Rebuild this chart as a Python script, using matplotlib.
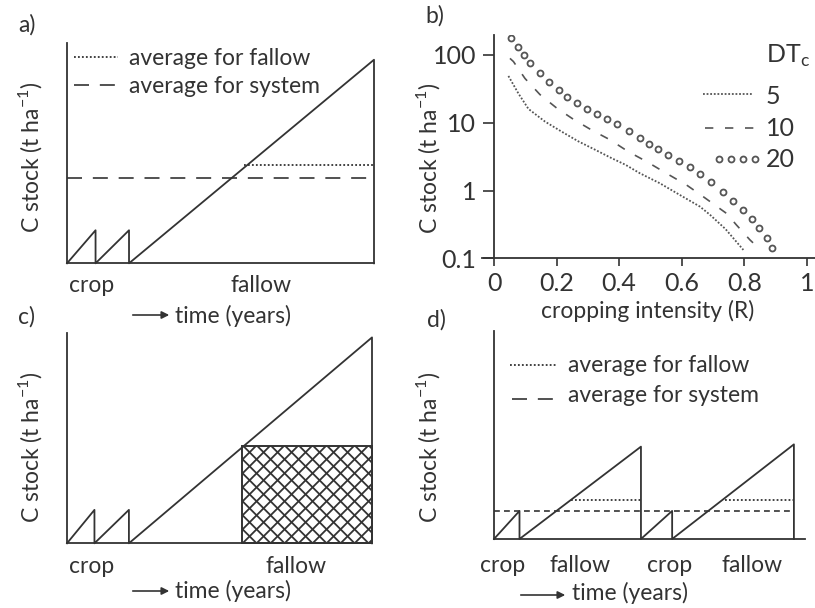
import matplotlib
matplotlib.use('Agg')
import numpy as np
import matplotlib.pyplot as plt
from matplotlib.lines import Line2D
from matplotlib.patches import Rectangle, FancyArrowPatch

plt.rcParams['font.family'] = ['Lato', 'DejaVu Sans']
plt.rcParams['mathtext.fontset'] = 'custom'
plt.rcParams['mathtext.rm'] = 'Lato'

W, H = 815, 608
INK = '#333333'
GREY = '#555555'
FS = 16.5

# a) one crop phase followed by a long fallow
a_time = [0, 0.93, 0.93, 2.02, 2.02, 10, 10]
a_stock = [0, 1.5, 0, 1.5, 0, 9.24, 0]
a_sys_avg = 3.89
a_fallow_avg = 4.47
a_fallow_from = 5.75

# b) C stock against cropping intensity for three crop durations
r5 = [0.046, 0.078, 0.110, 0.163, 0.216, 0.270, 0.323, 0.376, 0.420, 0.466,
      0.530, 0.594, 0.658, 0.690, 0.740, 0.797]
c5 = [49, 27, 16.0, 10.4, 7.4, 5.3, 4.0, 3.0, 2.4, 1.8,
      1.28, 0.86, 0.58, 0.44, 0.27, 0.133]
r10 = [0.051, 0.062, 0.099, 0.147, 0.200, 0.253, 0.312, 0.371, 0.429, 0.488,
       0.546, 0.615, 0.669, 0.743, 0.775, 0.818, 0.840]
c10 = [89, 80, 45, 26, 16.5, 11.3, 7.8, 5.6, 3.75, 2.67,
       1.85, 1.21, 0.81, 0.46, 0.31, 0.187, 0.15]
r20 = [0.053, 0.076, 0.096, 0.116, 0.146, 0.176, 0.207, 0.234, 0.265, 0.296,
       0.328, 0.360, 0.394, 0.431, 0.466, 0.495, 0.524, 0.557, 0.592, 0.626,
       0.660, 0.695, 0.731, 0.763, 0.795, 0.825, 0.848, 0.871, 0.890]
c20 = [176, 133, 100, 75, 55, 40, 30.5, 24.3, 19.8, 15.8,
       13.3, 11.2, 9.6, 7.6, 5.9, 4.9, 4.1, 3.35, 2.76, 2.25,
       1.76, 1.32, 0.96, 0.70, 0.52, 0.38, 0.28, 0.20, 0.144]
b_xticks = [0, 0.2, 0.4, 0.6, 0.8, 1]
b_xlabels = ['0', '0.2', '0.4', '0.6', '0.8', '1']
b_yticks = [0.1, 1, 10, 100]
b_ylabels = ['0.1', '1', '10', '100']
dtc_labels = ['5', '10', '20']

# c) same cycle, fallow stock shown as a block
c_time = [0, 0.9, 0.9, 2.03, 2.03, 10, 10]
c_stock = [0, 1.59, 0, 1.59, 0, 9.79, 0]
c_box_from = 5.75
c_box_height = 4.65

# d) two shorter crop-fallow cycles
d_time = [0, 0.85, 0.85, 4.9, 4.9, 5.94, 5.94, 10, 10]
d_stock = [0, 1.35, 0, 4.44, 0, 1.35, 0, 4.55, 0]
d_sys_avg = 1.35
d_fallow_avg = 1.875
d_fallow_spans = [(2.56, 4.9), (7.7, 10)]

fig = plt.figure(figsize=(W / 100, H / 100), dpi=100)


def axes_px(l, t, r, b):
    return fig.add_axes([l / W, 1 - b / H, (r - l) / W, (b - t) / H])


def put(x, y, s, **kw):
    kw.setdefault('fontsize', FS)
    return fig.text(x / W, 1 - y / H, s, color=INK, **kw)


def hline(x1, x2, y, **kw):
    fig.add_artist(Line2D([x1 / W, x2 / W], [1 - y / H, 1 - y / H],
                          transform=fig.transFigure, **kw))


def arrow(x1, x2, y):
    fig.add_artist(FancyArrowPatch((x1 / W, 1 - y / H), (x2 / W, 1 - y / H),
                                   transform=fig.transFigure, arrowstyle='-|>',
                                   mutation_scale=11, lw=1.2, color=INK))


def schematic(ax, xmax=10):
    ax.set_xlim(0, xmax)
    ax.set_ylim(0, 10)
    for s in ['top', 'right']:
        ax.spines[s].set_visible(False)
    for s in ['left', 'bottom']:
        ax.spines[s].set_color(INK)
        ax.spines[s].set_linewidth(1.3)
    ax.set_xticks([])
    ax.set_yticks([])
    ax.patch.set_alpha(0)


dotted = dict(color=INK, lw=1.3, dashes=(1, 1.2))
dashed = dict(color=INK, lw=1.2, dashes=(9, 6.5))
short_dash = dict(color=INK, lw=1.2, dashes=(3.5, 2.5))
ylab = r'C stock (t ha$^{\mathregular{-1}}$)'

# ---- a)
ax_a = axes_px(67, 43, 374, 263.3)
schematic(ax_a)
ax_a.plot(a_time, a_stock, color=INK, lw=1.3, clip_on=False)
ax_a.plot([0, 10], [a_sys_avg] * 2, clip_on=False, **dashed)
ax_a.plot([a_fallow_from, 10], [a_fallow_avg] * 2, clip_on=False, **dotted)
hline(74, 118, 57, **dotted)
hline(74, 118, 85, **dashed)
put(129, 65, 'average for fallow', va='baseline')
put(129, 93, 'average for system', va='baseline')
put(18, 25, 'a)', va='center')
put(30, 157, ylab, rotation=90, ha='center', va='center')
put(92, 292, 'crop', ha='center', va='baseline')
put(261, 292, 'fallow', ha='center', va='baseline')
arrow(130, 172, 315)
put(175, 323, 'time (years)', va='baseline')

# ---- b)
ax_b = axes_px(481.5, 35, 815, 258.3)
ax_b.set_yscale('log')
ax_b.set_xlim(-0.04, 1.026)
ax_b.set_ylim(0.1, 197)
ax_b.plot(r5, c5, color=GREY, lw=1.3, dashes=(1, 1))
ax_b.plot(r10, c10, color=GREY, lw=1.2, dashes=(5, 7))
ax_b.plot(r20, c20, ls='none', marker='o', ms=4.3, mew=1.3,
          mfc='none', mec=GREY)
for s in ['top', 'right']:
    ax_b.spines[s].set_visible(False)
ax_b.spines['left'].set_position(('data', 0))
for s in ['left', 'bottom']:
    ax_b.spines[s].set_color(INK)
    ax_b.spines[s].set_linewidth(1.3)
ax_b.set_xticks(b_xticks)
ax_b.set_xticklabels(b_xlabels)
ax_b.set_yticks(b_yticks)
ax_b.set_yticklabels(b_ylabels)
ax_b.yaxis.set_minor_locator(matplotlib.ticker.NullLocator())
ax_b.tick_params(axis='both', colors=INK, labelsize=18, width=1.2,
                 direction='out')
ax_b.tick_params(axis='x', length=6, pad=4)
ax_b.tick_params(axis='y', length=8, pad=5)
ax_b.patch.set_alpha(0)
put(425, 16, 'b)', va='center')
put(428, 158, ylab, rotation=90, ha='center', va='center')
put(648, 318, 'cropping intensity (R)', ha='center', va='baseline')
put(766, 56, r'DT$_{\mathregular{c}}$', va='center', fontsize=18)
hline(703, 753, 94, color=GREY, lw=1.3, dashes=(1, 1))
hline(705, 755, 128, color=GREY, lw=1.2, dashes=(5, 7))
fig.add_artist(Line2D(np.linspace(719, 755, 4) / W, [1 - 159 / H] * 4,
                      transform=fig.transFigure, ls='none', marker='o',
                      ms=4.3, mew=1.3, mfc='none', mec=GREY))
for lab, y in zip(dtc_labels, [96, 128, 160]):
    put(766, y, lab, va='center', fontsize=18)

# ---- c)
ax_c = axes_px(67, 333, 372, 543.3)
schematic(ax_c)
ax_c.plot(c_time, c_stock, color=INK, lw=1.3, clip_on=False)
box = Rectangle((c_box_from, 0), 10 - c_box_from, c_box_height,
                facecolor='none', edgecolor=INK, lw=1.4, clip_on=False)
ax_c.add_patch(box)
# cross-hatch at 45 degrees on screen, lines 14 px apart
pos = ax_c.get_position()
sx = pos.width * W / 10
sy = pos.height * H / 10
step = 14 / sx
run = c_box_height * sy / sx
for x0 in np.arange(c_box_from - run, 10 + run, step):
    for sign in (1, -1):
        ln, = ax_c.plot([x0, x0 + sign * run], [0, c_box_height],
                        color=INK, lw=1.3, clip_on=True)
        ln.set_clip_path(box)
put(18, 317, 'c)', va='center')
put(30, 447, ylab, rotation=90, ha='center', va='center')
put(92, 573, 'crop', ha='center', va='baseline')
put(296, 573, 'fallow', ha='center', va='baseline')
arrow(130, 172, 591)
put(175, 598, 'time (years)', va='baseline')

# ---- d)
ax_d = axes_px(494, 331, 805, 539)
schematic(ax_d, xmax=10.37)
ax_d.plot(d_time, d_stock, color=INK, lw=1.3, clip_on=False)
ax_d.plot([0, 10], [d_sys_avg] * 2, clip_on=False, **short_dash)
for x0, x1 in d_fallow_spans:
    ax_d.plot([x0, x1], [d_fallow_avg] * 2, clip_on=False, **dotted)
hline(510, 557, 365, **dotted)
hline(512, 557, 399, **dashed)
put(568, 372, 'average for fallow', va='baseline')
put(568, 402, 'average for system', va='baseline')
put(427, 320, 'd)', va='center')
put(428, 447, ylab, rotation=90, ha='center', va='center')
for lab, x in zip(['crop', 'fallow', 'crop', 'fallow'], [503, 580, 670, 752]):
    put(x, 572, lab, ha='center', va='baseline')
arrow(518, 568, 595)
put(572, 600, 'time (years)', va='baseline')

fig.savefig('out.png', dpi=100, facecolor='white')
